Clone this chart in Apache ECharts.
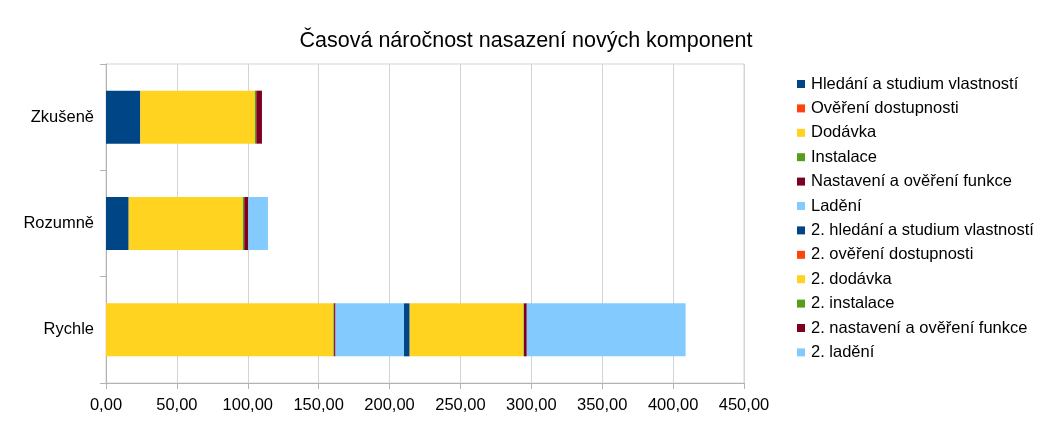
<!DOCTYPE html>
<html>
<head>
<meta charset="utf-8">
<script src="https://cdn.jsdelivr.net/npm/echarts@6/dist/echarts.min.js"></script>
<style>
  html, body { margin: 0; padding: 0; background: #fff; }
  #chart { width: 1052px; height: 432px; }
</style>
</head>
<body>
<div id="chart"></div>
<script>
// kategorie zdola nahoru
var kategorie = ['Rychle', 'Rozumně', 'Zkušeně'];

var nazvy = [
    'Hledání a studium vlastností',
    'Ověření dostupnosti',
    'Dodávka',
    'Instalace',
    'Nastavení a ověření funkce',
    'Ladění',
    '2. hledání a studium vlastností',
    '2. ověření dostupnosti',
    '2. dodávka',
    '2. instalace',
    '2. nastavení a ověření funkce',
    '2. ladění'
];

// hodnoty: [Rychle, Rozumně, Zkušeně]
var hledani      = [0, 16, 24.2];
var overeni      = [0, 0, 0];
var dodavka      = [160.4, 80.5, 80.8];
var instalace    = [0.5, 1, 1];
var nastaveni    = [1, 2.8, 4];
var ladeni       = [48.3, 13.9, 0];
var hledani2     = [4, 0, 0];
var overeni2     = [0, 0, 0];
var dodavka2     = [80.3, 0, 0];
var instalace2   = [0.3, 0, 0];
var nastaveni2   = [2, 0, 0];
var ladeni2      = [112, 0, 0];

var osaX = [0, 50, 100, 150, 200, 250, 300, 350, 400, 450];

var data = [hledani, overeni, dodavka, instalace, nastaveni, ladeni,
            hledani2, overeni2, dodavka2, instalace2, nastaveni2, ladeni2];

var barvy = ['#004586', '#ff420e', '#ffd320', '#579d1c', '#7e0021', '#83caff',
             '#004586', '#ff420e', '#ffd320', '#579d1c', '#7e0021', '#83caff'];

var font = 'Liberation Sans, Arial, sans-serif';

var series = [];
for (var i = 0; i < nazvy.length; i++) {
    series.push({
        name: nazvy[i],
        type: 'bar',
        stack: 'celkem',
        barWidth: 53,
        itemStyle: { color: barvy[i] },
        data: data[i]
    });
}

var option = {
    animation: false,
    color: barvy,
    title: {
        text: 'Časová náročnost nasazení nových komponent',
        left: 521,
        textAlign: 'center',
        top: 25,
        textStyle: { fontFamily: font, fontSize: 21.5, fontWeight: 'normal', color: '#000' }
    },
    legend: {
        orient: 'vertical',
        left: 797,
        top: 75,
        padding: 0,
        icon: 'rect',
        itemWidth: 8,
        itemHeight: 8,
        itemGap: 6.4,
        textStyle: { fontFamily: font, fontSize: 16.5, color: '#000', lineHeight: 18, padding: [0, 0, 0, 1] },
        data: nazvy
    },
    grid: {
        left: 106,
        right: 308,
        top: 64,
        bottom: 49,
        show: true,
        borderColor: '#d4d4d4',
        borderWidth: 1
    },
    xAxis: {
        type: 'value',
        min: osaX[0],
        max: osaX[osaX.length - 1],
        interval: 50,
        axisLine: { show: true, lineStyle: { color: '#b3b3b3' } },
        axisTick: { show: true, length: 6, lineStyle: { color: '#b3b3b3' } },
        splitLine: { show: true, lineStyle: { color: '#d4d4d4' } },
        axisLabel: {
            margin: 14,
            fontFamily: font,
            fontSize: 16.5,
            color: '#000',
            formatter: function (v) { return v.toFixed(2).replace('.', ','); }
        }
    },
    yAxis: {
        type: 'category',
        data: kategorie,
        axisLine: { show: true, lineStyle: { color: '#b3b3b3' } },
        axisTick: { show: true, length: 6, lineStyle: { color: '#b3b3b3' } },
        splitLine: { show: false },
        axisLabel: { margin: 12, fontFamily: font, fontSize: 16.5, color: '#000' }
    },
    series: series
};

var graf = echarts.init(document.getElementById('chart'));
graf.setOption(option);
</script>
</body>
</html>
